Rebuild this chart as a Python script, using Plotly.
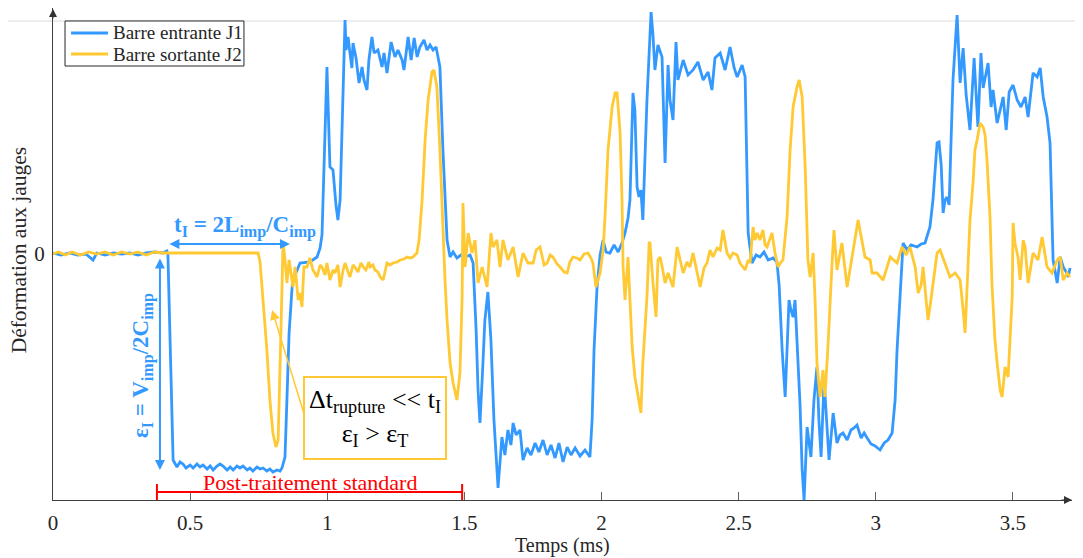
import plotly.graph_objects as go

# ---------------- data (time in ms, strain in arbitrary units) ----------------
blue_t = [0, 0.03, 0.06, 0.09, 0.12, 0.146, 0.16, 0.19, 0.22, 0.25, 0.28, 0.31, 0.34, 0.37, 0.40, 0.415,
          0.419, 0.427, 0.434, 0.438, 0.452, 0.463, 0.474, 0.485, 0.500, 0.511, 0.525, 0.536, 0.547, 0.562,
          0.573, 0.584, 0.598, 0.609, 0.620, 0.635, 0.646, 0.657, 0.671, 0.682, 0.693, 0.708, 0.718, 0.729,
          0.744, 0.755, 0.766, 0.780, 0.791, 0.802, 0.817, 0.828, 0.835, 0.846, 0.853, 0.861, 0.872, 0.875,
          0.901, 0.937, 0.963, 0.974, 0.981, 0.988, 0.992, 0.999, 1.010, 1.021, 1.032, 1.039, 1.047, 1.058,
          1.065, 1.069, 1.076, 1.083, 1.090, 1.094, 1.105, 1.116, 1.127, 1.134, 1.145, 1.152, 1.163, 1.171,
          1.185, 1.200, 1.207, 1.218, 1.233, 1.247, 1.258, 1.273, 1.280, 1.295, 1.306, 1.317, 1.328, 1.338,
          1.353, 1.364, 1.375, 1.386, 1.397, 1.404, 1.411, 1.422, 1.430, 1.437, 1.448, 1.459, 1.473, 1.488,
          1.503, 1.521, 1.532, 1.543, 1.550, 1.557, 1.565, 1.575, 1.586, 1.597, 1.608, 1.623, 1.637, 1.648,
          1.659, 1.670, 1.678, 1.689, 1.703, 1.714, 1.729, 1.743, 1.758, 1.772, 1.787, 1.802, 1.816, 1.831,
          1.845, 1.860, 1.875, 1.889, 1.904, 1.922, 1.940, 1.958, 1.966, 1.973, 1.984, 1.995, 2.006, 2.017,
          2.031, 2.046, 2.061, 2.075, 2.086, 2.097, 2.104, 2.115, 2.122, 2.130, 2.137, 2.144, 2.151, 2.166,
          2.181, 2.188, 2.195, 2.206, 2.221, 2.232, 2.243, 2.250, 2.261, 2.272, 2.279, 2.298, 2.316, 2.334,
          2.352, 2.371, 2.389, 2.403, 2.414, 2.433, 2.451, 2.469, 2.484, 2.495, 2.513, 2.524, 2.535, 2.549,
          2.564, 2.578, 2.593, 2.608, 2.626, 2.640, 2.648, 2.659, 2.670, 2.684, 2.691, 2.699, 2.706, 2.717,
          2.724, 2.732, 2.739, 2.750, 2.757, 2.764, 2.775, 2.786, 2.793, 2.801, 2.812, 2.823, 2.830, 2.845,
          2.859, 2.870, 2.881, 2.896, 2.910, 2.921, 2.932, 2.947, 2.958, 2.969, 2.983, 2.998, 3.016, 3.031,
          3.045, 3.060, 3.071, 3.078, 3.089, 3.100, 3.115, 3.129, 3.151, 3.166, 3.180, 3.198, 3.209, 3.217,
          3.224, 3.231, 3.239, 3.246, 3.253, 3.260, 3.268, 3.275, 3.282, 3.297, 3.308, 3.319, 3.330, 3.344,
          3.359, 3.373, 3.384, 3.392, 3.403, 3.410, 3.421, 3.428, 3.443, 3.457, 3.465, 3.476, 3.487, 3.501,
          3.516, 3.530, 3.545, 3.556, 3.574, 3.589, 3.600, 3.611, 3.625, 3.636, 3.647, 3.662, 3.673, 3.684,
          3.695, 3.702, 3.709]
blue_v = [0.01, -0.01, 0.01, -0.01, 0.00, -0.06, 0.01, -0.01, 0.01, 0.00, 0.01, -0.01, 0.01, 0.02, 0.01, 0.03,
          0.00, -1.00, -1.90, -2.06, -2.13, -2.08, -2.10, -2.14, -2.11, -2.14, -2.10, -2.13, -2.11, -2.15,
          -2.12, -2.16, -2.12, -2.10, -2.12, -2.16, -2.13, -2.16, -2.12, -2.14, -2.12, -2.16, -2.14, -2.17,
          -2.13, -2.15, -2.14, -2.17, -2.15, -2.18, -2.16, -2.17, -2.14, -2.03, -1.46, -0.79, -0.33, -0.26,
          -0.09, -0.08, -0.03, 0.06, 0.19, 0.84, 1.37, 1.87, 0.87, 0.84, 0.49, 0.34, 0.54, 1.74,
          2.34, 2.04, 2.17, 2.01, 1.86, 2.11, 1.96, 1.71, 1.87, 1.74, 1.64, 1.94, 2.17, 2.01,
          2.04, 1.87, 2.01, 1.81, 2.12, 1.97, 2.04, 1.94, 1.84, 2.17, 1.94, 2.16, 1.97, 2.07,
          2.14, 2.04, 2.09, 2.04, 2.07, 1.97, 1.87, 1.04, 0.54, 0.14, -0.03, 0.02, -0.04, -0.01,
          -0.03, -0.01, -0.09, -0.76, -1.36, -1.69, -1.26, -0.66, -0.38, -0.86, -1.66, -2.34, -1.83, -2.01,
          -1.76, -1.91, -1.69, -1.81, -1.76, -2.06, -1.94, -2.01, -1.89, -1.98, -1.86, -2.01, -1.91, -2.04,
          -1.89, -2.08, -1.93, -2.01, -1.94, -2.02, -1.96, -2.03, -1.66, -0.96, -0.33, -0.01, 0.14, 0.02,
          0.01, 0.09, 0.02, 0.11, 0.21, 0.36, 0.54, 1.61, 1.44, 0.67, 0.57, 0.64, 0.34, 1.54,
          2.42, 2.19, 1.84, 2.09, 1.97, 0.91, 1.89, 1.54, 1.34, 2.12, 1.74, 1.94, 1.79, 1.84,
          1.92, 1.74, 1.82, 1.64, 1.96, 2.01, 1.84, 2.07, 1.86, 1.77, 1.89, 1.77, 0.21, -0.09,
          -0.01, -0.03, 0.02, -0.06, -0.04, -0.08, -0.31, -0.96, -1.43, -0.46, -0.56, -0.63, -0.46, -1.06,
          -1.49, -2.16, -2.46, -1.73, -1.86, -2.03, -1.46, -1.13, -1.66, -2.03, -1.26, -1.76, -2.06, -1.59,
          -1.89, -1.81, -1.79, -1.86, -1.76, -1.74, -1.71, -1.84, -1.79, -1.84, -1.90, -1.92, -1.96, -1.89,
          -1.86, -1.79, -1.46, -0.96, -0.43, 0.11, 0.04, 0.09, 0.07, 0.10, 0.11, 0.27, 0.54, 0.84,
          1.11, 1.12, 0.89, 0.41, 0.54, 0.57, 0.49, 1.14, 1.74, 2.39, 1.71, 2.06, 1.59, 1.24,
          1.96, 1.27, 2.01, 1.66, 1.84, 1.91, 1.47, 1.64, 1.31, 1.47, 1.57, 1.24, 1.62, 1.69,
          1.54, 1.47, 1.57, 1.37, 1.81, 1.77, 1.86, 1.57, 1.37, 1.11, -0.06, -0.29, -0.03, -0.13,
          -0.18, -0.23, -0.14]

yellow_t = [0, 0.02, 0.045, 0.07, 0.10, 0.13, 0.16, 0.19, 0.22, 0.25, 0.28, 0.31, 0.34, 0.37, 0.40, 0.45,
            0.55, 0.65, 0.748, 0.755, 0.766, 0.780, 0.791, 0.802, 0.813, 0.821, 0.828, 0.835, 0.839, 0.846,
            0.853, 0.861, 0.868, 0.875, 0.883, 0.894, 0.901, 0.908, 0.915, 0.926, 0.937, 0.948, 0.963, 0.974,
            0.981, 0.992, 0.999, 1.010, 1.021, 1.028, 1.039, 1.047, 1.058, 1.065, 1.076, 1.083, 1.094, 1.101,
            1.112, 1.123, 1.134, 1.141, 1.152, 1.156, 1.167, 1.174, 1.185, 1.193, 1.204, 1.218, 1.229, 1.240,
            1.255, 1.266, 1.280, 1.291, 1.302, 1.313, 1.327, 1.335, 1.346, 1.357, 1.368, 1.382, 1.389, 1.400,
            1.411, 1.422, 1.430, 1.437, 1.448, 1.459, 1.473, 1.484, 1.492, 1.495, 1.503, 1.514, 1.528, 1.539,
            1.550, 1.565, 1.583, 1.597, 1.605, 1.619, 1.630, 1.641, 1.659, 1.678, 1.696, 1.714, 1.732, 1.751,
            1.762, 1.776, 1.791, 1.802, 1.813, 1.823, 1.838, 1.849, 1.864, 1.875, 1.885, 1.896, 1.911, 1.922,
            1.937, 1.951, 1.962, 1.969, 1.980, 1.995, 2.006, 2.013, 2.024, 2.039, 2.050, 2.057, 2.068, 2.075,
            2.079, 2.086, 2.093, 2.097, 2.104, 2.112, 2.122, 2.133, 2.144, 2.151, 2.166, 2.174, 2.177, 2.188,
            2.199, 2.206, 2.214, 2.225, 2.232, 2.243, 2.261, 2.276, 2.287, 2.298, 2.312, 2.323, 2.334, 2.349,
            2.360, 2.374, 2.385, 2.396, 2.407, 2.422, 2.433, 2.443, 2.451, 2.458, 2.469, 2.480, 2.495, 2.505,
            2.516, 2.524, 2.535, 2.542, 2.553, 2.560, 2.568, 2.578, 2.589, 2.597, 2.604, 2.615, 2.622, 2.633,
            2.644, 2.655, 2.662, 2.677, 2.688, 2.699, 2.713, 2.721, 2.732, 2.743, 2.753, 2.761, 2.772, 2.779,
            2.786, 2.797, 2.808, 2.815, 2.826, 2.841, 2.848, 2.859, 2.877, 2.896, 2.914, 2.936, 2.961, 2.980,
            2.987, 3.005, 3.027, 3.053, 3.078, 3.096, 3.111, 3.125, 3.144, 3.155, 3.166, 3.173, 3.184, 3.191,
            3.198, 3.209, 3.224, 3.235, 3.253, 3.271, 3.290, 3.308, 3.319, 3.326, 3.333, 3.344, 3.355, 3.362,
            3.370, 3.381, 3.392, 3.399, 3.406, 3.417, 3.424, 3.435, 3.443, 3.454, 3.461, 3.472, 3.483, 3.490,
            3.498, 3.501, 3.508, 3.519, 3.527, 3.538, 3.545, 3.556, 3.574, 3.592, 3.607, 3.625, 3.643, 3.662,
            3.673, 3.684, 3.698, 3.709]
yellow_v = [0.00, 0.02, -0.01, 0.02, -0.01, 0.02, 0.00, 0.02, -0.01, 0.02, 0.00, 0.02, -0.01, 0.02, 0.01, 0.01,
            0.01, 0.01, 0.01, -0.08, -0.46, -0.96, -1.46, -1.79, -1.93, -1.86, -1.13, -0.13, 0.11, -0.06,
            -0.29, -0.06, -0.21, -0.33, -0.13, -0.46, -0.39, -0.53, -0.13, -0.13, -0.04, -0.16, -0.23, -0.11,
            -0.13, -0.21, -0.09, -0.26, -0.16, -0.19, -0.11, -0.33, -0.16, -0.09, -0.18, -0.23, -0.11, -0.13,
            -0.18, -0.09, -0.14, -0.16, -0.08, -0.13, -0.11, -0.16, -0.18, -0.23, -0.26, -0.09, -0.11, -0.09,
            -0.08, -0.06, -0.05, -0.03, -0.04, -0.03, 0.01, 0.14, 0.54, 1.14, 1.54, 1.82, 1.84, 1.67,
            1.04, 0.21, -0.29, -0.66, -1.09, -1.29, -1.46, -1.19, -0.43, 0.51, -0.13, 0.21, 0.01, 0.14,
            -0.29, -0.13, -0.33, 0.21, 0.07, 0.14, -0.13, 0.14, -0.06, 0.07, -0.23, 0.01, -0.09, -0.09,
            0.04, 0.07, -0.11, -0.09, -0.01, -0.03, -0.10, -0.13, -0.18, -0.19, -0.08, -0.03, -0.04, -0.06,
            0.00, 0.01, -0.04, -0.09, -0.33, -0.19, 0.04, 0.37, 1.04, 1.47, 1.61, 1.61, 1.21, 0.54,
            -0.13, -0.46, -0.16, -0.03, -0.46, -0.93, -1.23, -1.39, -1.59, -1.09, -0.43, 0.11, 0.11, -0.29,
            -0.63, -0.06, -0.03, -0.18, -0.29, -0.19, -0.33, 0.07, -0.06, -0.19, -0.08, -0.13, 0.01, -0.18,
            -0.33, -0.14, -0.09, 0.04, -0.03, 0.06, 0.04, 0.24, 0.09, 0.01, -0.04, 0.01, -0.01, -0.09,
            -0.13, -0.16, -0.06, -0.09, 0.27, 0.14, 0.21, 0.14, 0.24, 0.09, 0.07, 0.16, 0.21, 0.01,
            -0.13, -0.08, -0.06, 0.37, 1.04, 1.47, 1.67, 1.74, 1.57, 0.87, -0.06, -0.23, 0.01, -0.46,
            -1.09, -1.43, -1.16, -1.43, -0.93, -0.09, 0.24, -0.16, 0.11, -0.33, -0.03, 0.34, -0.03, -0.06,
            -0.19, -0.19, -0.26, -0.03, -0.09, 0.07, -0.01, 0.07, -0.13, -0.39, -0.31, -0.13, -0.46, -0.66,
            -0.53, -0.29, 0.01, 0.04, -0.09, -0.23, -0.19, -0.26, -0.56, -0.79, -0.36, 0.34, 0.71, 1.04,
            1.14, 1.31, 1.27, 1.19, 0.94, 0.37, -0.29, -0.86, -1.09, -1.36, -1.43, -1.13, -1.23, -0.86,
            -0.43, 0.31, 0.11, -0.03, -0.26, 0.14, 0.07, -0.29, 0.01, -0.06, 0.17, -0.13, -0.19, -0.06,
            -0.03, -0.26, -0.19, -0.23]

series_names = ["Barre entrante J1", "Barre sortante J2"]
x_tick_vals = [0, 0.5, 1, 1.5, 2, 2.5, 3, 3.5]
x_tick_text = ["0", "0.5", "1", "1.5", "2", "2.5", "3", "3.5"]

# annotation anchors (data units)
tI_start, tI_end, tI_level = 0.419, 0.864, 0.10
eps_x, eps_top, eps_bot = 0.390, -0.03, -2.16
post_start, post_end, post_level = 0.379, 1.492, -2.38

BLUE = "#3399ff"
YEL = "#ffc933"
RED = "#ff0000"
FONT = "Liberation Serif"
TXT = "#262626"

X_RANGE = [0, 3.716]
Y_RANGE = [-2.46, 2.46]

fig = go.Figure()
fig.add_trace(go.Scatter(x=blue_t, y=blue_v, mode="lines", name=series_names[0],
                         line=dict(color=BLUE, width=2.8), showlegend=False))
fig.add_trace(go.Scatter(x=yellow_t, y=yellow_v, mode="lines", name=series_names[1],
                         line=dict(color=YEL, width=2.8), showlegend=False))

# legend box geometry (paper units)
LG_X0, LG_X1, LG_Y0, LG_Y1 = 0.0118, 0.1874, 0.8821, 0.9736
LG_LINE_X0, LG_LINE_X1, LG_TEXT_X = 0.0177, 0.054, 0.0565
LG_ROWS = [0.9492, 0.9065]
legend_colors = [BLUE, YEL]

shapes = [
    # light top guide line across the figure
    dict(type="line", xref="paper", yref="y", x0=-0.06, x1=1.02, y0=2.33, y1=2.33,
         line=dict(color="#dcdcdc", width=1), layer="below"),
    # red post-processing range
    dict(type="line", xref="x", yref="y", x0=post_start, x1=post_end, y0=post_level, y1=post_level,
         line=dict(color=RED, width=2)),
    dict(type="line", xref="x", yref="y", x0=post_start, x1=post_start, y0=post_level - 0.08,
         y1=post_level + 0.08, line=dict(color=RED, width=2)),
    dict(type="line", xref="x", yref="y", x0=post_end, x1=post_end, y0=post_level - 0.08,
         y1=post_level + 0.08, line=dict(color=RED, width=2)),
    # legend frame
    dict(type="rect", xref="paper", yref="paper", x0=LG_X0, x1=LG_X1, y0=LG_Y0, y1=LG_Y1,
         line=dict(color=TXT, width=1), fillcolor="white", layer="above"),
]
for row_y, col in zip(LG_ROWS, legend_colors):
    shapes.append(dict(type="line", xref="paper", yref="paper", x0=LG_LINE_X0, x1=LG_LINE_X1,
                       y0=row_y, y1=row_y, line=dict(color=col, width=2.8), layer="above"))

annotations = [
    # double arrows
    dict(x=tI_end, y=tI_level, ax=tI_start, ay=tI_level, xref="x", yref="y", axref="x", ayref="y",
         text="", showarrow=True, arrowside="end+start", arrowhead=2, arrowsize=1, arrowwidth=2,
         arrowcolor=BLUE),
    dict(x=eps_x, y=eps_bot, ax=eps_x, ay=eps_top, xref="x", yref="y", axref="x", ayref="y",
         text="", showarrow=True, arrowside="end+start", arrowhead=2, arrowsize=1, arrowwidth=2,
         arrowcolor=BLUE),
    dict(x=0.70, y=0.28, xref="x", yref="y", showarrow=False, xanchor="center", yanchor="middle",
         text="<b>t<sub>I</sub> = 2L<sub>imp</sub>/C<sub>imp</sub></b>",
         font=dict(family=FONT, size=23, color=BLUE)),
    dict(x=0.325, y=-1.12, xref="x", yref="y", showarrow=False, textangle=-90,
         xanchor="center", yanchor="middle",
         text="<b>ε<sub>I</sub> = V<sub>imp</sub>/2C<sub>imp</sub></b>",
         font=dict(family=FONT, size=23, color=BLUE)),
    # yellow boxed note + pointer
    dict(x=1.174, y=-1.64, xref="x", yref="y", showarrow=False, xanchor="center", yanchor="middle",
         text="Δt<sub>rupture</sub> &lt;&lt; t<sub>I</sub><br>ε<sub>I</sub> &gt; ε<sub>T</sub>",
         font=dict(family=FONT, size=26, color="black"), bordercolor=YEL, borderwidth=2,
         width=138, height=78, bgcolor="rgba(255,255,255,0)", align="center"),
    dict(x=0.799, y=-0.56, ax=0.919, ay=-1.63, xref="x", yref="y", axref="x", ayref="y",
         text="", showarrow=True, arrowhead=2, arrowsize=1.3, arrowwidth=1.5, arrowcolor=YEL),
    # red label
    dict(x=0.937, y=-2.285, xref="x", yref="y", showarrow=False, xanchor="center", yanchor="middle",
         text="Post-traitement standard", font=dict(family=FONT, size=22, color=RED)),
    # axis titles
    dict(x=-0.033, y=0.04, xref="paper", yref="y", showarrow=False, textangle=-90,
         xanchor="center", yanchor="middle",
         text="Déformation aux jauges", font=dict(family=FONT, size=21.5, color=TXT)),
    dict(x=1.857, y=-0.0915, xref="x", yref="paper", showarrow=False, xanchor="center",
         yanchor="middle", text="Temps (ms)", font=dict(family=FONT, size=20, color=TXT)),
    # axis arrows
    dict(x=0, y=1, xref="paper", yref="paper", ax=0, ay=12, text="", showarrow=True,
         arrowhead=2, arrowsize=1.6, arrowwidth=1, arrowcolor="#333333"),
    dict(x=1, y=0, xref="paper", yref="paper", ax=-12, ay=0, text="", showarrow=True,
         arrowhead=2, arrowsize=1.6, arrowwidth=1, arrowcolor="#333333"),
]
for row_y, name in zip(LG_ROWS, series_names):
    annotations.append(dict(x=LG_TEXT_X, y=row_y, xref="paper", yref="paper", xanchor="left",
                            yanchor="middle", showarrow=False, text=name,
                            font=dict(family=FONT, size=19, color=TXT)))

# The page body adds an 8 px offset, so the figure is sized to the remaining window area.
fig.update_layout(
    width=1075, height=550,
    margin=dict(l=45, r=11, t=0, b=58, autoexpand=False),
    paper_bgcolor="white", plot_bgcolor="white",
    font=dict(family=FONT, size=20, color=TXT),
    showlegend=False,
    shapes=shapes, annotations=annotations,
)
fig.update_xaxes(range=X_RANGE, showgrid=False, zeroline=False, showline=True, linecolor="#404040",
                 linewidth=1, ticks="inside", ticklen=8, tickcolor="#606060", tickvals=x_tick_vals,
                 ticktext=x_tick_text, tickfont=dict(family=FONT, size=21, color=TXT), automargin=False,
                 ticklabelstandoff=4)
fig.update_yaxes(range=Y_RANGE, showgrid=False, zeroline=False, showline=True, linecolor="#404040",
                 linewidth=1, ticks="", tickvals=[0], ticktext=["0"], automargin=False,
                 ticklabelstandoff=3, tickfont=dict(family=FONT, size=21, color=TXT))

fig.write_html("out.html")
